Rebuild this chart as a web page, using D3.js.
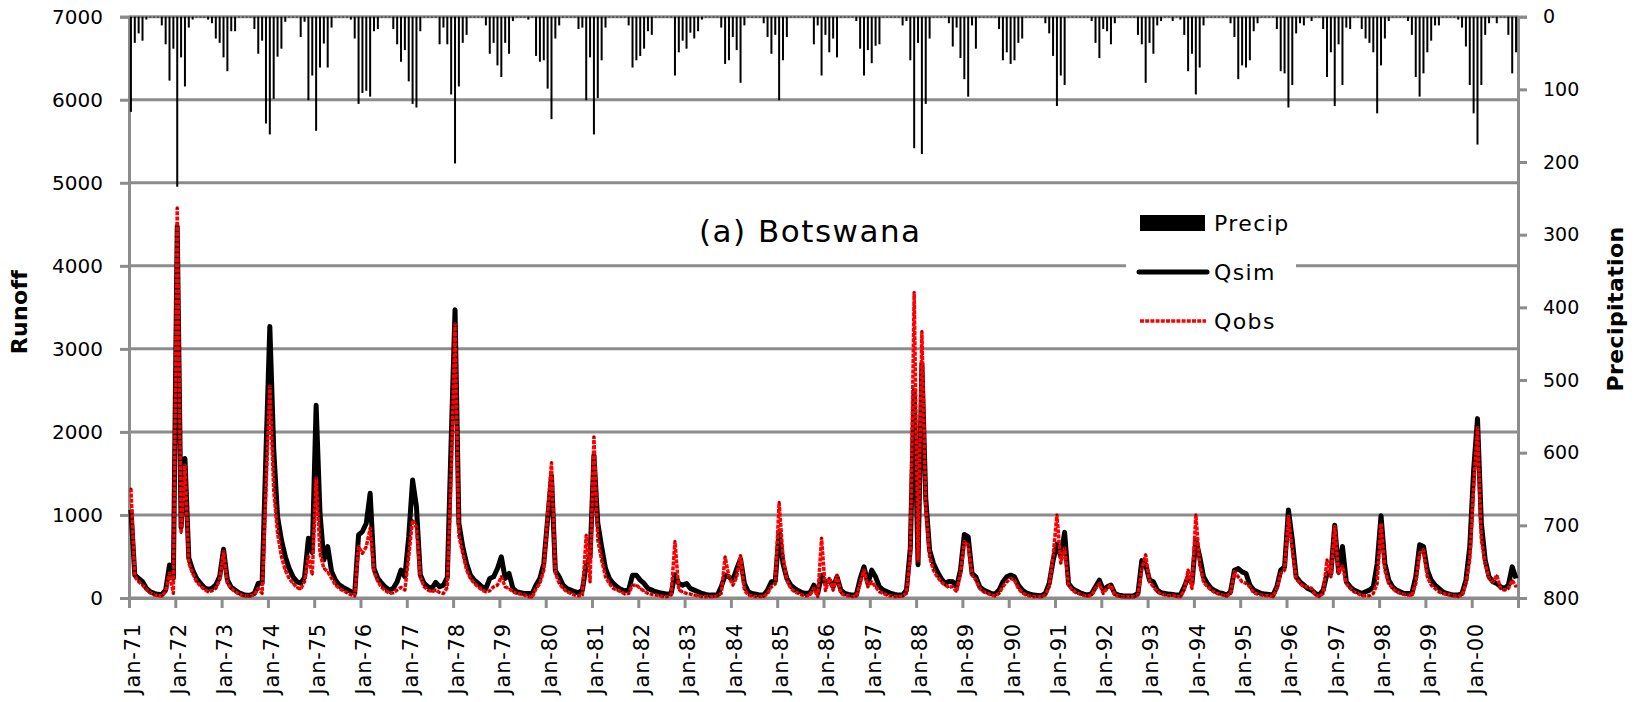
<!DOCTYPE html>
<html>
<head>
<meta charset="utf-8">
<script src="https://cdn.jsdelivr.net/npm/d3@7"></script>
<style>
  html, body { margin: 0; padding: 0; background: #fff; }
  svg { display: block; font-family: "DejaVu Sans", Verdana, sans-serif; }
</style>
</head>
<body>
<svg id="chart" width="1636" height="702"></svg>
<script>
// Monthly series, January 1971 to December 2000 (one row per year, Jan..Dec)
const startYear = 1971;
const yearCount = 30;

// Monthly precipitation (mm)
const precip = [
  131, 36, 23, 33, 4, 1, 1, 1, 12, 38, 88, 44,
  234, 56, 96, 15, 4, 1, 1, 1, 4, 9, 30, 36,
  56, 75, 20, 20, 1, 1, 1, 1, 17, 51, 33, 147,
  162, 113, 55, 44, 7, 1, 1, 1, 28, 7, 115, 81,
  157, 70, 37, 70, 15, 1, 1, 1, 1, 4, 30, 120,
  105, 102, 110, 20, 17, 1, 1, 1, 17, 38, 62, 46,
  89, 120, 125, 20, 1, 1, 1, 1, 38, 15, 38, 107,
  202, 96, 36, 25, 1, 1, 1, 1, 12, 51, 36, 67,
  83, 36, 51, 6, 1, 1, 1, 4, 1, 54, 62, 60,
  99, 141, 30, 12, 1, 1, 1, 1, 17, 15, 115, 56,
  162, 112, 60, 15, 1, 1, 1, 1, 1, 12, 70, 60,
  54, 44, 20, 25, 1, 1, 1, 1, 1, 81, 49, 33,
  44, 22, 30, 20, 4, 1, 1, 1, 1, 15, 65, 60,
  28, 46, 91, 12, 1, 1, 1, 1, 9, 28, 51, 25,
  115, 60, 28, 1, 1, 1, 1, 1, 1, 38, 12, 81,
  25, 49, 30, 56, 1, 1, 1, 1, 6, 44, 81, 46,
  64, 40, 38, 1, 1, 1, 1, 1, 12, 6, 60, 181,
  36, 189, 120, 30, 1, 1, 1, 1, 9, 41, 15, 57,
  86, 110, 12, 44, 1, 1, 1, 1, 1, 17, 60, 49,
  65, 60, 36, 30, 1, 1, 1, 1, 1, 9, 23, 54,
  123, 81, 94, 1, 1, 1, 1, 1, 1, 6, 36, 57,
  17, 20, 38, 9, 1, 1, 1, 1, 1, 25, 38, 91,
  36, 51, 12, 6, 1, 1, 6, 1, 4, 25, 75, 51,
  107, 70, 12, 1, 1, 1, 1, 1, 1, 9, 28, 86,
  67, 70, 60, 20, 9, 1, 1, 1, 1, 17, 75, 78,
  125, 94, 23, 9, 12, 1, 6, 1, 1, 17, 83, 49,
  123, 38, 94, 15, 17, 1, 1, 17, 30, 36, 49, 133,
  67, 30, 6, 1, 1, 1, 1, 6, 25, 83, 110, 78,
  49, 33, 12, 12, 1, 1, 1, 1, 4, 15, 41, 94,
  133, 176, 94, 25, 9, 1, 9, 1, 1, 25, 78, 49
];

// Simulated runoff
const qsim = [
  1060, 277, 237, 197, 116, 76, 56, 44, 40, 96, 398, 237,
  4474, 850, 1680, 480, 337, 237, 177, 128, 104, 116, 157, 257,
  586, 217, 128, 96, 64, 44, 32, 36, 56, 177, 177, 1750,
  3269, 1800, 980, 700, 500, 357, 257, 197, 177, 250, 720, 550,
  2320, 1020, 458, 618, 317, 217, 157, 128, 104, 76, 56, 759,
  800, 900, 1261, 357, 237, 177, 128, 96, 116, 197, 337, 257,
  739, 1420, 1100, 280, 175, 135, 115, 188, 135, 155, 250, 1900,
  3470, 900, 616, 415, 275, 215, 175, 135, 115, 235, 255, 355,
  495, 235, 295, 115, 75, 63, 55, 55, 55, 155, 235, 415,
  950, 1470, 330, 255, 155, 115, 95, 75, 63, 95, 400, 495,
  1720, 900, 616, 355, 235, 175, 135, 103, 87, 95, 275, 275,
  215, 175, 115, 95, 75, 63, 55, 47, 55, 280, 175, 155,
  175, 115, 95, 75, 55, 43, 35, 35, 35, 135, 275, 255,
  215, 350, 470, 175, 75, 55, 47, 35, 35, 95, 195, 200,
  800, 415, 235, 155, 115, 87, 63, 55, 63, 155, 55, 275,
  180, 215, 135, 255, 95, 55, 43, 35, 35, 235, 375, 175,
  335, 255, 135, 95, 75, 55, 43, 35, 35, 95, 600, 2500,
  400, 2820, 1200, 576, 415, 315, 235, 175, 200, 195, 135, 335,
  766, 736, 295, 255, 135, 95, 75, 55, 47, 95, 195, 255,
  275, 255, 155, 95, 63, 47, 35, 31, 27, 55, 175, 450,
  650, 500, 790, 175, 115, 87, 63, 47, 35, 55, 135, 215,
  95, 135, 155, 55, 35, 27, 23, 23, 27, 55, 450, 400,
  215, 195, 95, 63, 55, 47, 43, 35, 35, 135, 255, 175,
  700, 500, 255, 175, 115, 87, 63, 55, 35, 75, 335, 355,
  315, 295, 155, 95, 75, 55, 47, 43, 35, 135, 335, 375,
  1060, 700, 255, 195, 155, 115, 95, 55, 35, 95, 295, 295,
  877, 315, 620, 195, 135, 95, 75, 55, 75, 95, 135, 415,
  990, 415, 215, 135, 95, 75, 55, 55, 55, 255, 640, 620,
  335, 215, 155, 115, 75, 55, 43, 35, 35, 55, 215, 616,
  1538, 2160, 900, 457, 255, 195, 175, 135, 115, 155, 375, 235
];

// Observed runoff
const qobs = [
  1320, 257, 197, 157, 104, 64, 36, 28, 24, 76, 297, 56,
  4695, 780, 1600, 420, 297, 197, 145, 104, 76, 88, 116, 217,
  558, 177, 116, 76, 48, 28, 24, 24, 40, 116, 56, 1300,
  2550, 1300, 780, 500, 337, 237, 177, 128, 104, 200, 500, 280,
  1442, 538, 357, 317, 237, 157, 116, 88, 64, 40, 24, 618,
  538, 618, 839, 317, 197, 128, 88, 56, 64, 96, 128, 96,
  498, 940, 850, 250, 135, 95, 75, 95, 67, 55, 130, 1500,
  3300, 750, 536, 335, 235, 175, 135, 95, 75, 87, 135, 155,
  255, 135, 115, 75, 55, 47, 35, 15, 7, 115, 175, 335,
  1000, 1630, 300, 175, 115, 75, 55, 35, 23, 35, 755, 195,
  1940, 700, 456, 255, 175, 115, 95, 75, 47, 55, 155, 155,
  115, 83, 55, 43, 35, 27, 15, 15, 35, 680, 95, 75,
  55, 47, 35, 27, 15, 15, 15, 15, 23, 55, 495, 255,
  155, 250, 510, 95, 35, 23, 15, 15, 15, 55, 135, 170,
  1150, 495, 215, 115, 75, 55, 35, 23, 35, 115, 15, 720,
  90, 235, 95, 275, 55, 35, 23, 15, 23, 175, 335, 135,
  195, 135, 75, 55, 35, 23, 15, 15, 23, 55, 500, 3680,
  450, 3210, 1100, 495, 335, 255, 195, 155, 130, 135, 75, 295,
  677, 636, 275, 215, 115, 75, 55, 35, 23, 55, 135, 195,
  235, 215, 115, 63, 35, 23, 15, 15, 15, 35, 135, 500,
  1000, 420, 600, 155, 95, 63, 47, 31, 23, 35, 115, 175,
  55, 115, 155, 35, 23, 15, 15, 15, 15, 35, 350, 520,
  195, 135, 75, 47, 35, 27, 35, 15, 15, 95, 335, 115,
  1000, 400, 195, 135, 95, 63, 47, 35, 23, 55, 315, 255,
  195, 175, 135, 63, 47, 35, 27, 27, 15, 115, 295, 335,
  980, 580, 235, 175, 135, 135, 115, 35, 15, 55, 457, 255,
  860, 295, 380, 175, 115, 75, 55, 27, 27, 27, 55, 175,
  900, 335, 175, 115, 75, 55, 43, 35, 27, 175, 540, 580,
  255, 155, 115, 75, 55, 43, 35, 27, 15, 35, 175, 456,
  1338, 2050, 700, 416, 235, 195, 275, 115, 95, 115, 215, 135
];

const runoffTicks = [0, 1000, 2000, 3000, 4000, 5000, 6000, 7000];
const precipTicks = [0, 100, 200, 300, 400, 500, 600, 700, 800];
const yearStarts = d3.range(0, yearCount * 12, 12);
const yearLabels = yearStarts.map(i => "Jan-" + String((startYear + i / 12) % 100).padStart(2, "0"));
const seriesNames = ["Precip", "Qsim", "Qobs"];
const chartTitle = "(a) Botswana";
const leftTitle = "Runoff";
const rightTitle = "Precipitation";

// ---- layout ----
const svg = d3.select("#chart");
const plot = { left: 129, right: 1518, top: 16.7, bottom: 598 };
const gridColor = "#8c8c8c";
const n = precip.length;

const x = d3.scaleLinear().domain([0, n]).range([plot.left, plot.right]);
const xc = i => x(i + 0.5);
const yRun = d3.scaleLinear().domain([0, 7000]).range([plot.bottom, plot.top]);
const yPre = d3.scaleLinear().domain([0, 800]).range([plot.top, plot.bottom]);

// horizontal gridlines at runoff ticks
svg.append("g")
  .selectAll("line")
  .data(runoffTicks)
  .join("line")
  .attr("x1", plot.left).attr("x2", plot.right)
  .attr("y1", d => yRun(d)).attr("y2", d => yRun(d))
  .attr("stroke", gridColor).attr("stroke-width", 3);

// left axis
const leftAxis = svg.append("g")
  .attr("transform", `translate(${plot.left},0)`)
  .call(d3.axisLeft(yRun).tickValues(runoffTicks).tickSize(9).tickPadding(17).tickFormat(d3.format("d")));
leftAxis.select(".domain").attr("stroke", gridColor).attr("stroke-width", 3);
leftAxis.selectAll(".tick line").attr("stroke", gridColor).attr("stroke-width", 3);
leftAxis.selectAll(".tick text").attr("font-size", 20).attr("fill", "#000")
  .attr("font-family", "DejaVu Sans, sans-serif");

// right axis (precipitation, inverted)
const rightAxis = svg.append("g")
  .attr("transform", `translate(${plot.right},0)`)
  .call(d3.axisRight(yPre).tickValues(precipTicks).tickSize(9).tickPadding(16));
rightAxis.select(".domain").attr("stroke", gridColor).attr("stroke-width", 3);
rightAxis.selectAll(".tick line").attr("stroke", gridColor).attr("stroke-width", 3);
rightAxis.selectAll(".tick text").attr("font-size", 19).attr("fill", "#000")
  .attr("font-family", "DejaVu Sans, sans-serif");

// bottom axis with yearly January ticks
const bottomAxis = svg.append("g")
  .attr("transform", `translate(0,${plot.bottom})`)
  .call(d3.axisBottom(x).tickValues(yearStarts).tickSize(10)
    .tickFormat((d, k) => yearLabels[k]));
bottomAxis.select(".domain").attr("stroke", gridColor).attr("stroke-width", 3);
bottomAxis.selectAll(".tick line").attr("stroke", gridColor).attr("stroke-width", 3);
bottomAxis.selectAll(".tick text")
  .attr("font-size", 21).attr("fill", "#000")
  .attr("font-family", "DejaVu Sans, sans-serif")
  .attr("letter-spacing", 0.8)
  .attr("text-anchor", "end")
  .attr("transform", "rotate(-90)")
  .attr("x", -25).attr("y", 3).attr("dy", "0.35em");

// precipitation bars hanging from the top
svg.append("g")
  .selectAll("rect")
  .data(precip)
  .join("rect")
  .attr("x", (d, i) => xc(i) - 1)
  .attr("width", 2)
  .attr("y", yPre(0))
  .attr("height", d => yPre(d) - yPre(0))
  .attr("fill", "#000");

// runoff lines
const lineGen = d3.line()
  .x((d, i) => xc(i))
  .y(d => yRun(d));

svg.append("path")
  .datum(qsim)
  .attr("d", lineGen)
  .attr("fill", "none")
  .attr("stroke", "#000")
  .attr("stroke-width", 5)
  .attr("stroke-linejoin", "round");

svg.append("path")
  .datum(qobs)
  .attr("d", lineGen)
  .attr("fill", "none")
  .attr("stroke", "#ff0000")
  .attr("stroke-width", 3.5)
  .attr("stroke-dasharray", "4 1.2")
  .attr("stroke-linejoin", "round");

svg.append("g")
  .selectAll("circle")
  .data(qobs)
  .join("circle")
  .attr("cx", (d, i) => xc(i))
  .attr("cy", d => yRun(d))
  .attr("r", 0.9)
  .attr("fill", "#5a0000");

// title
svg.append("text")
  .attr("x", 699).attr("y", 242)
  .attr("font-size", 31)
  .attr("letter-spacing", 1.5)
  .attr("fill", "#000")
  .text(chartTitle);

// legend
const legend = svg.append("g");
legend.append("rect")
  .attr("x", 1126).attr("y", 200).attr("width", 170).attr("height", 140)
  .attr("fill", "#fff");
const rowY = [223, 272, 321];
legend.append("rect")
  .attr("x", 1140).attr("y", rowY[0] - 8).attr("width", 65).attr("height", 16)
  .attr("fill", "#000");
legend.append("line")
  .attr("x1", 1139).attr("x2", 1207).attr("y1", rowY[1]).attr("y2", rowY[1])
  .attr("stroke", "#000").attr("stroke-width", 5).attr("stroke-linecap", "round");
legend.append("line")
  .attr("x1", 1140).attr("x2", 1206).attr("y1", rowY[2]).attr("y2", rowY[2])
  .attr("stroke", "#ff0000").attr("stroke-width", 3.5).attr("stroke-dasharray", "4 1.2");
legend.selectAll("text.lg")
  .data(seriesNames)
  .join("text")
  .attr("class", "lg")
  .attr("x", 1214)
  .attr("y", (d, k) => rowY[k] + 8)
  .attr("font-size", 22)
  .attr("letter-spacing", 1.4)
  .attr("fill", "#000")
  .text(d => d);

// axis titles
svg.append("text")
  .attr("transform", "translate(27,312) rotate(-90)")
  .attr("text-anchor", "middle")
  .attr("font-size", 22).attr("font-weight", "bold")
  .attr("letter-spacing", 0.3)
  .attr("fill", "#000")
  .text(leftTitle);

svg.append("text")
  .attr("transform", "translate(1623,309) rotate(-90)")
  .attr("text-anchor", "middle")
  .attr("font-size", 22).attr("font-weight", "bold")
  .attr("letter-spacing", 0.4)
  .attr("fill", "#000")
  .text(rightTitle);
</script>
</body>
</html>
